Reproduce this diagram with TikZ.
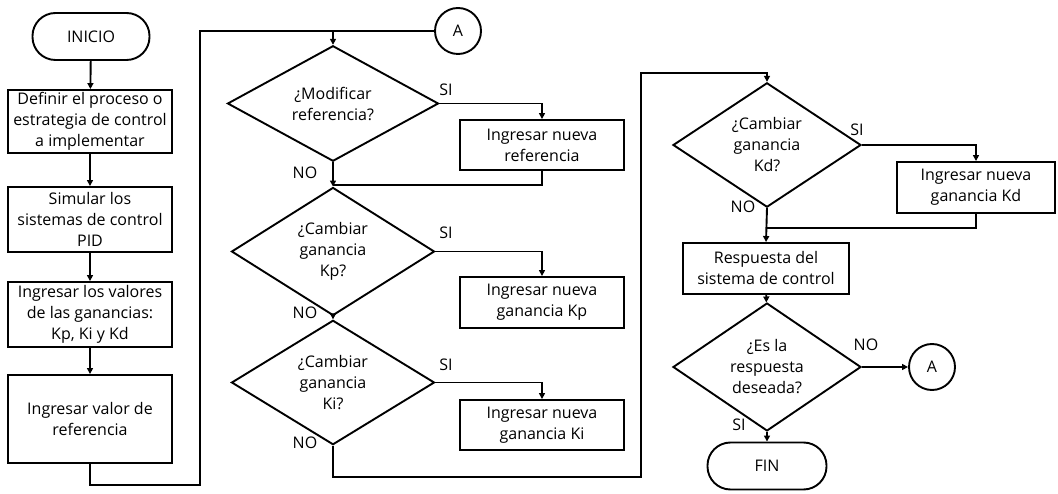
\documentclass[tikz,border=0pt]{standalone}
\usepackage{fontspec}
\setmainfont{Open Sans}
\usetikzlibrary{shapes.geometric,arrows.meta}
\begin{document}
\begin{tikzpicture}[x=1pt,y=-1pt,
  every node/.style={font=\fontsize{16}{21}\selectfont},
  conn/.style={line width=1.9pt},
  arr/.style={conn, -{Triangle[length=6pt,width=6pt]}},
  proc/.style={draw, line width=1.9pt, rectangle, align=center, inner sep=2pt},
  term/.style={draw, line width=1.9pt, rectangle, rounded corners=23pt, minimum height=47pt},
  dec/.style={draw, line width=1.9pt, diamond, align=center, inner sep=0pt},
  conc/.style={draw, line width=1.9pt, circle, minimum size=46pt, inner sep=0pt},
  lab/.style={inner sep=0pt}
]
\useasboundingbox (0,0) rectangle (1058,494);

% left column: start and setup steps
\node[term, minimum width=117pt] (inicio) at (91,36.5) {INICIO};
\node[proc, minimum width=164pt, minimum height=63pt] (b1) at (90,121.5)
  {Definir el proceso o\\estrategia de control\\a implementar};
\node[proc, minimum width=164pt, minimum height=65pt] (b2) at (90,219.5)
  {Simular los\\sistemas de control\\PID};
\node[proc, minimum width=164pt, minimum height=65pt] (b3) at (90,314.5)
  {Ingresar los valores\\de las ganancias:\\Kp, Ki y Kd};
\node[proc, minimum width=164pt, minimum height=88pt] (b4) at (90,419)
  {Ingresar valor de\\referencia};

% middle column: reference and Kp, Ki changes
\node[conc] (A1) at (458,31) {A};
\node[dec, minimum width=211pt, minimum height=103pt] (d1) at (333,103.5)
  {¿Modificar\\referencia?};
\node[proc, minimum width=164pt, minimum height=50pt] (r1) at (542,145)
  {Ingresar nueva\\referencia};
\node[dec, minimum width=203pt, minimum height=103pt] (d2) at (333,251.5)
  {¿Cambiar\\ganancia\\Kp?};
\node[proc, minimum width=164pt, minimum height=51pt] (r2) at (542,302.5)
  {Ingresar nueva\\ganancia Kp};
\node[dec, minimum width=203pt, minimum height=105pt] (d3) at (333,382.5)
  {¿Cambiar\\ganancia\\Ki?};
\node[proc, minimum width=164pt, minimum height=50pt] (r3) at (542,425)
  {Ingresar nueva\\ganancia Ki};

% right column: Kd change, response check, end
\node[dec, minimum width=188pt, minimum height=104pt] (d4) at (767,145)
  {¿Cambiar\\ganancia\\Kd?};
\node[proc, minimum width=158pt, minimum height=51pt] (r4) at (976,187.5)
  {Ingresar nueva\\ganancia Kd};
\node[proc, minimum width=166pt, minimum height=51pt] (b5) at (766,268.5)
  {Respuesta del\\sistema de control};
\node[dec, minimum width=188pt, minimum height=104pt] (d5) at (767,367)
  {¿Es la\\respuesta\\deseada?};
\node[conc] (A2) at (932,367) {A};
\node[term, minimum width=119pt] (fin) at (767,466) {FIN};

% branch labels
\node[lab] at (446,90) {SI};
\node[lab] at (305,173) {NO};
\node[lab] at (446,233) {SI};
\node[lab] at (305,313) {NO};
\node[lab] at (446,365) {SI};
\node[lab] at (305,443) {NO};
\node[lab] at (857,130) {SI};
\node[lab] at (743,207) {NO};
\node[lab] at (866,345) {NO};
\node[lab] at (739,425) {SI};

% helper points for routed connectors
\coordinate (lb) at (200,485);
\coordinate (m1) at (333,185);
\coordinate (c2) at (641,477);
\coordinate (c3) at (641,73);
\coordinate (m4) at (767,228);

% left column flow
\draw[arr] (inicio) -- (b1);
\draw[arr] (b1) -- (b2);
\draw[arr] (b2) -- (b3);
\draw[arr] (b3) -- (b4);
\draw[conn] (b4.south) |- (lb) |- (A1.west);
\draw[arr] (d1.north |- A1) -- (d1.north);

% middle column flow
\draw[arr] (d1.east) -| (r1.north);
\draw[conn] (r1.south) |- (m1);
\draw[arr] (d1.south) -- (d2.north);
\draw[arr] (d2.east) -| (r2.north);
\draw[arr] (d2.south) -- (d3.north);
\draw[arr] (d3.east) -| (r3.north);
\draw[arr] (d3.south) |- (c2) -- (c3) -| (d4.north);

% right column flow
\draw[arr] (d4.east) -| (r4.north);
\draw[conn] (r4.south) |- (m4);
\draw[arr] (d4.south) -- (b5.north);
\draw[arr] (b5) -- (d5);
\draw[arr] (d5.east) -- (A2.west);
\draw[arr] (d5.south) -- (fin.north);
\end{tikzpicture}
\end{document}
